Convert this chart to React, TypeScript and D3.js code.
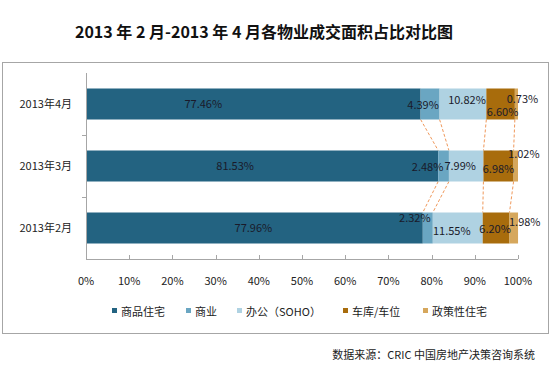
import { useEffect, useRef } from "react";
import * as d3 from "d3";

// months, top to bottom
const months = ["2013年4月", "2013年3月", "2013年2月"];
const seriesNames = ["商品住宅", "商业", "办公（SOHO）", "车库/车位", "政策性住宅"];
const seriesColors = ["#236381", "#6aa6c2", "#afd2e2", "#a86c0c", "#d6a75c"];

const residential = [77.46, 81.53, 77.96];
const commercial = [4.39, 2.48, 2.32];
const office = [10.82, 7.99, 11.55];
const garage = [6.6, 6.98, 6.2];
const policyHousing = [0.73, 1.02, 1.98];

const xTicks = [0, 10, 20, 30, 40, 50, 60, 70, 80, 90, 100];

// hand-placed label nudges (px) as in the original chart, [month][series]
const labelDx = [
  [-50, -7, 4, 2, 6],
  [-27, -16, -6, 0, 8],
  [-1, -13, -6, -1, 11],
];
const labelDy = [
  [0, 1, -4, 8, -5],
  [0, 1, 0, 3, -12],
  [0, -10, 3, 1, -6],
];

export default function App() {
  const svgRef = useRef<SVGSVGElement>(null);
  const width = 550;
  const height = 371;

  useEffect(() => {
    if (!svgRef.current) return;
    const svg = d3.select(svgRef.current);
    svg.selectAll("*").remove();

    const font = "'Noto Sans CJK SC', 'Noto Sans', sans-serif";
    const values = [residential, commercial, office, garage, policyHousing];

    // frame
    svg
      .append("rect")
      .attr("x", 2.5)
      .attr("y", 62.5)
      .attr("width", 546)
      .attr("height", 271)
      .attr("fill", "none")
      .attr("stroke", "#a6a6a6");

    svg
      .append("text")
      .attr("x", 264)
      .attr("y", 38)
      .attr("text-anchor", "middle")
      .attr("font-family", font)
      .attr("font-weight", "bold")
      .attr("font-size", 16)
      .attr("fill", "#111")
      .text("2013 年 2 月-2013 年 4 月各物业成交面积占比对比图");

    const margin = { left: 86, right: 32, top: 73, bottom: 112 };
    const innerW = width - margin.left - margin.right;
    const innerH = height - margin.top - margin.bottom;

    const x = d3.scaleLinear().domain([0, 100]).range([0, innerW]);
    const y = d3.scaleBand().domain(months).range([0, innerH]).paddingInner(0.5).paddingOuter(0.25);

    const g = svg.append("g").attr("transform", `translate(${margin.left},${margin.top})`);

    // stacked data
    const rows = months.map((m, i) => {
      let acc = 0;
      return values.map((s, k) => {
        const start = acc;
        acc += s[i];
        return { month: m, i, k, start, end: acc, value: s[i] };
      });
    });

    // series lines between bars
    for (let i = 0; i < months.length - 1; i++) {
      for (let k = 0; k < values.length - 1; k++) {
        const a = rows[i][k].end;
        const b = rows[i + 1][k].end;
        g.append("line")
          .attr("x1", x(a))
          .attr("x2", x(b))
          .attr("y1", y(months[i])! + y.bandwidth())
          .attr("y2", y(months[i + 1])!)
          .attr("stroke", "#f0985a")
          .attr("stroke-width", 1)
          .attr("stroke-dasharray", "3,2");
      }
    }

    rows.forEach((row) => {
      g.selectAll(null)
        .data(row)
        .enter()
        .append("rect")
        .attr("x", (d) => x(d.start))
        .attr("y", (d) => y(d.month)!)
        .attr("width", (d) => x(d.end) - x(d.start))
        .attr("height", y.bandwidth())
        .attr("fill", (d) => seriesColors[d.k]);
    });

    rows.forEach((row) => {
      g.selectAll(null)
        .data(row)
        .enter()
        .append("text")
        .attr("x", (d) => x((d.start + d.end) / 2) + labelDx[d.i][d.k])
        .attr("y", (d) => y(d.month)! + y.bandwidth() / 2 + labelDy[d.i][d.k])
        .attr("dy", "0.35em")
        .attr("text-anchor", "middle")
        .attr("font-family", font)
        .attr("font-size", 11)
        .attr("fill", "#1a1a2a")
        .text((d) => d.value.toFixed(2) + "%");
    });

    // axes
    g.append("line")
      .attr("x1", 0.5)
      .attr("x2", 0.5)
      .attr("y1", 0)
      .attr("y2", innerH)
      .attr("stroke", "#a6a6a6");
    [1, 2].forEach((j) => {
      g.append("line")
        .attr("x1", -4)
        .attr("x2", 0)
        .attr("y1", (innerH / 3) * j + 0.5)
        .attr("y2", (innerH / 3) * j + 0.5)
        .attr("stroke", "#a6a6a6");
    });
    g.append("line")
      .attr("x1", 0)
      .attr("x2", innerW)
      .attr("y1", innerH + 0.5)
      .attr("y2", innerH + 0.5)
      .attr("stroke", "#a6a6a6");
    xTicks.forEach((t) => {
      g.append("line")
        .attr("x1", Math.round(x(t)) + 0.5)
        .attr("x2", Math.round(x(t)) + 0.5)
        .attr("y1", innerH - 4)
        .attr("y2", innerH)
        .attr("stroke", "#a6a6a6");
    });
    g.selectAll(".xt")
      .data(xTicks)
      .enter()
      .append("text")
      .attr("x", (d) => x(d))
      .attr("y", innerH + 22)
      .attr("dy", "0.35em")
      .attr("text-anchor", "middle")
      .attr("font-family", font)
      .attr("font-size", 11)
      .attr("fill", "#222")
      .text((d) => d + "%");

    g.selectAll(".yt")
      .data(months)
      .enter()
      .append("text")
      .attr("x", -14)
      .attr("y", (d) => y(d)! + y.bandwidth() / 2)
      .attr("dy", "0.35em")
      .attr("text-anchor", "end")
      .attr("font-family", font)
      .attr("font-size", 11)
      .attr("fill", "#222")
      .text((d) => d);

    // legend
    const legendX = [112, 186, 237, 343, 423];
    const lg = svg.append("g");
    seriesNames.forEach((name, k) => {
      lg.append("rect")
        .attr("x", legendX[k])
        .attr("y", 308)
        .attr("width", 5)
        .attr("height", 5)
        .attr("fill", seriesColors[k]);
      lg.append("text")
        .attr("x", legendX[k] + 9)
        .attr("y", 312)
        .attr("dy", "0.35em")
        .attr("font-family", font)
        .attr("font-size", 11)
        .attr("fill", "#222")
        .text(name);
    });

    svg
      .append("text")
      .attr("x", 535)
      .attr("y", 355)
      .attr("dy", "0.35em")
      .attr("text-anchor", "end")
      .attr("font-family", font)
      .attr("font-size", 11)
      .attr("fill", "#222")
      .text("数据来源：CRIC 中国房地产决策咨询系统");
  }, []);

  return (
    <svg
      ref={svgRef}
      width={width}
      height={height}
      style={{ position: "absolute", left: 0, top: 0, background: "#fff" }}
    />
  );
}
